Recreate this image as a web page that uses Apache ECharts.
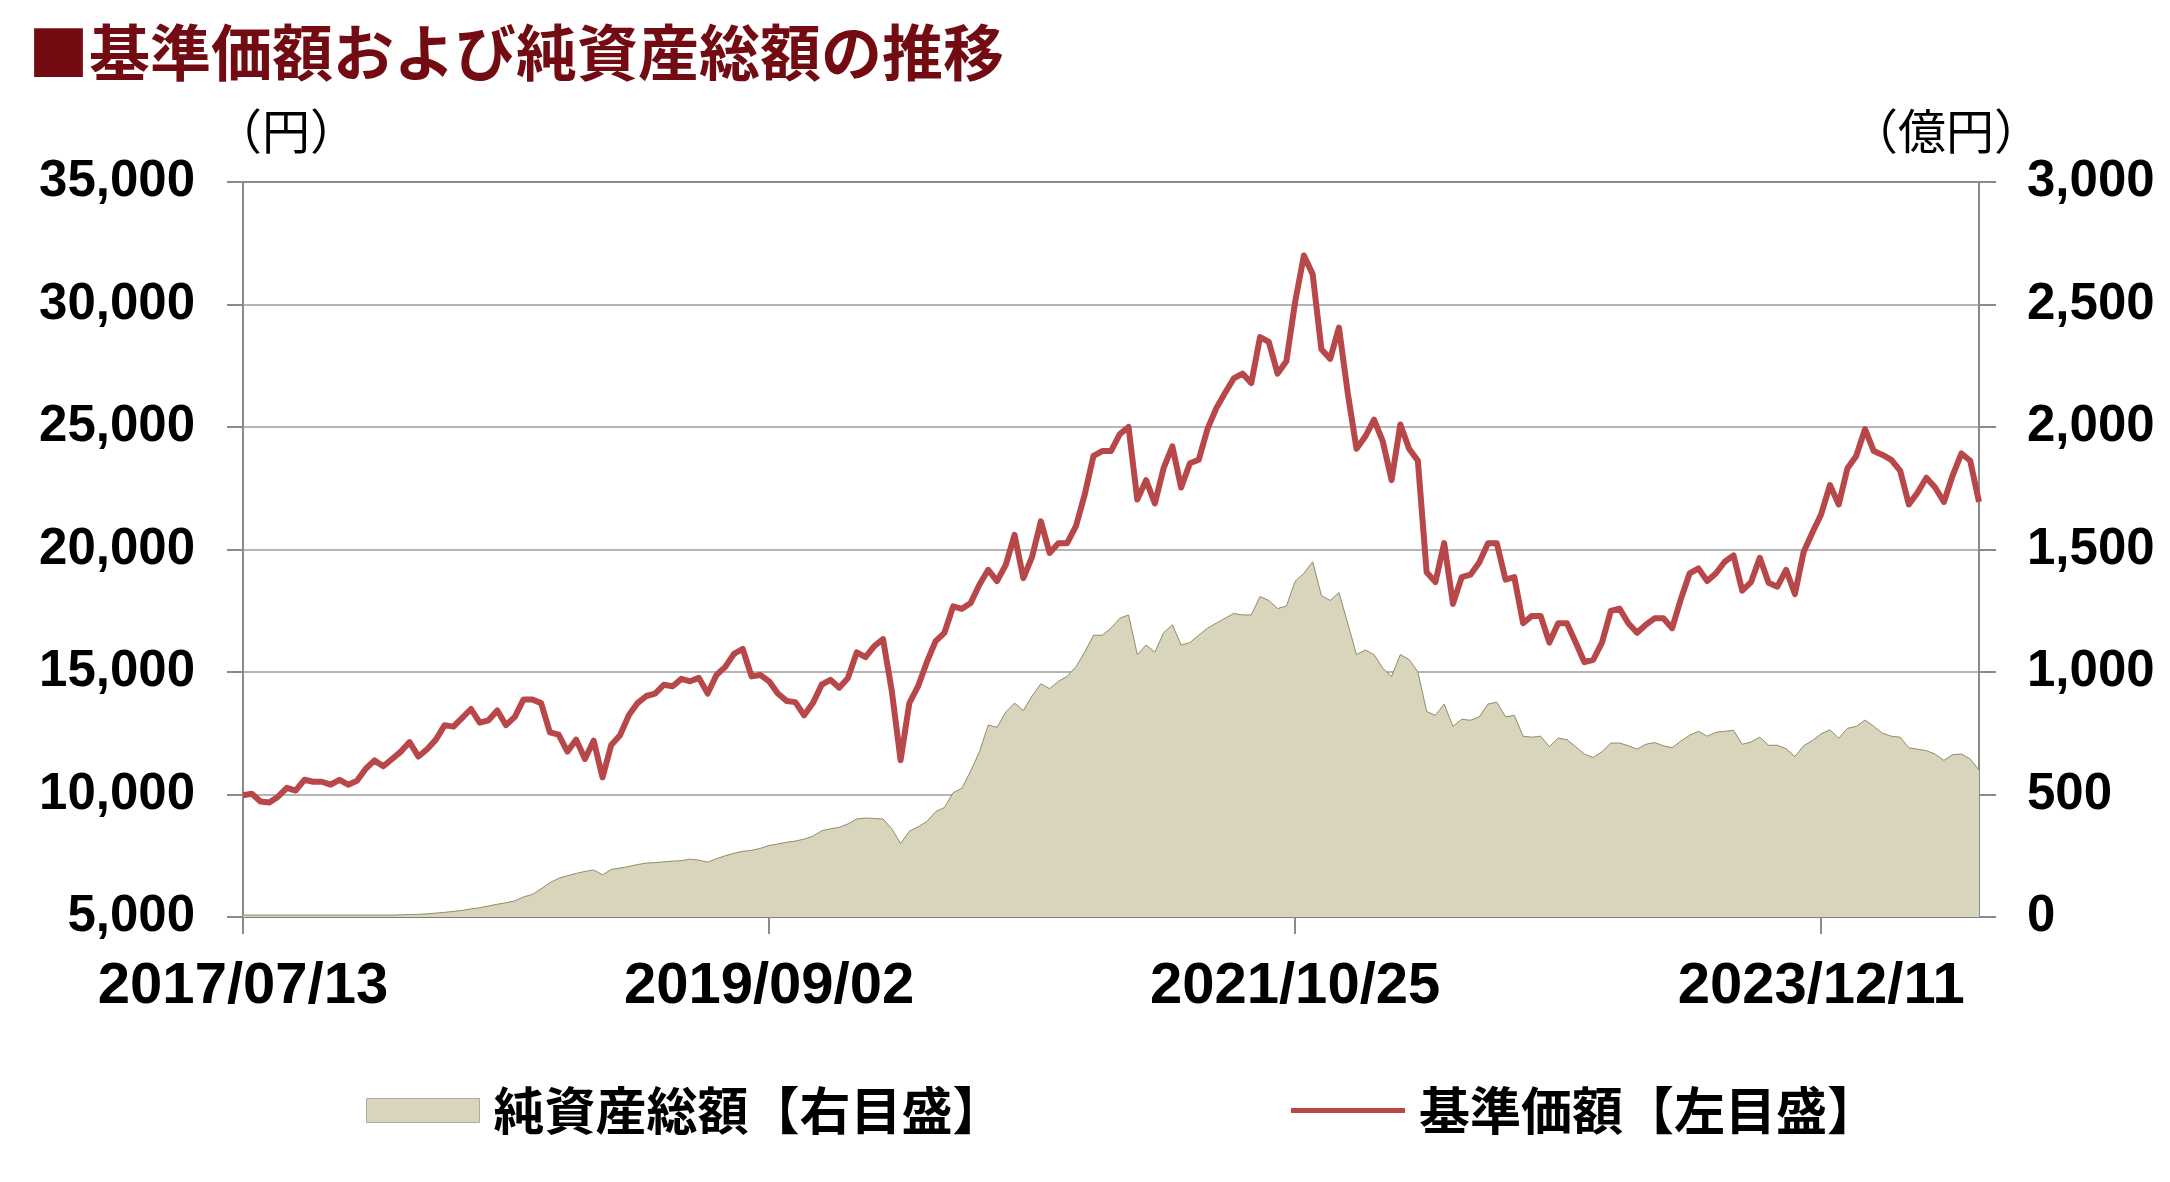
<!DOCTYPE html>
<html>
<head>
<meta charset="utf-8">
<script src="https://cdn.jsdelivr.net/npm/echarts@6/dist/echarts.min.js"></script>
<style>
html,body{margin:0;padding:0;background:#fff;}
#chart{width:2170px;height:1182px;}
</style>
</head>
<body>
<div id="chart"></div>
<script>
// ---- data ----
const tickDates = ['2017/07/13', '2019/09/02', '2021/10/25', '2023/12/11'];
const STEP = 60; // points between labelled dates

// 基準価額 (円), left axis
const price = [
  9970,10030,9710,9670,9910,10270,10160,10600,10520,10520,
  10400,10600,10400,10560,11050,11390,11150,11450,11750,12140,
  11550,11850,12240,12830,12770,13130,13490,12930,13030,13430,
  12830,13170,13880,13880,13730,12540,12440,11750,12240,11450,
  12200,10700,12020,12420,13230,13730,14020,14120,14480,14420,
  14720,14620,14760,14120,14880,15210,15740,15940,14820,14880,
  14620,14120,13820,13770,13230,13730,14480,14680,14360,14760,
  15800,15610,16060,16340,14220,11400,13730,14420,15410,16260,
  16600,17680,17580,17820,18570,19170,18710,19370,20600,18830,
  19700,21150,19860,20260,20260,20950,22240,23820,24020,24020,
  24710,25000,22040,22830,21880,23320,24210,22530,23520,23660,
  24910,25760,26390,26980,27180,26790,28670,28470,27180,27680,
  30100,32000,31240,28170,27780,29060,26390,24110,24610,25300,
  24410,22830,25100,24110,23620,19070,18670,20260,17780,18870,
  18970,19470,20260,20260,18770,18870,16990,17290,17290,16200,
  16990,16990,16200,15400,15500,16200,17490,17590,16990,16600,
  16930,17190,17190,16790,17980,19030,19230,18710,19030,19500,
  19760,18320,18670,19660,18640,18480,19170,18180,19900,20690,
  21440,22630,21840,23320,23820,24910,24020,23860,23660,23220,
  21840,22330,22930,22530,21940,23030,23920,23620,21940
];

// 純資産総額 (億円), right axis
const netAssets = [
  8,8,8,8,8,8,8,8,8,8,
  8,8,8,8,8,8,8,8,9,10,
  11,13,16,19,23,27,33,38,45,52,
  58,66,82,92,115,140,158,168,178,186,
  192,172,194,200,206,214,220,222,225,228,
  230,236,232,224,238,250,260,268,272,280,
  292,298,305,310,318,330,352,360,366,380,
  400,404,402,400,360,300,350,368,390,430,
  447,507,526,596,675,784,774,837,873,843,
  902,952,932,962,982,1021,1081,1150,1150,1179,
  1219,1233,1071,1110,1081,1160,1193,1110,1120,1150,
  1179,1199,1219,1239,1233,1233,1308,1292,1259,1269,
  1370,1403,1450,1312,1292,1324,1199,1071,1090,1071,
  1015,982,1071,1051,1001,839,823,869,778,807,
  803,817,869,877,817,823,738,734,738,695,
  730,724,695,665,651,675,710,710,699,685,
  705,712,699,691,718,742,758,738,754,758,
  762,705,714,734,701,701,687,655,699,720,
  748,764,730,770,778,804,778,750,738,734,
  691,685,679,665,639,663,665,645,600
];

const leftAxisRange = { min: 5000, max: 35000, interval: 5000 };
const rightAxisRange = { min: 0, max: 3000, interval: 500 };

const titleText = '■基準価額および純資産総額の推移';
const leftUnit = '（円）';
const rightUnit = '（億円）';
const nameNA = '純資産総額【右目盛】';
const namePrice = '基準価額【左目盛】';

// ---- category dates (labelled dates sit every STEP points) ----
function parseD(s){const p=s.split('/').map(Number);return Date.UTC(p[0],p[1]-1,p[2]);}
function fmtD(t){const d=new Date(t);return d.getUTCFullYear()+'/'+String(d.getUTCMonth()+1).padStart(2,'0')+'/'+String(d.getUTCDate()).padStart(2,'0');}
const categories = price.map((_, i) => {
  const k = Math.min(Math.floor(i / STEP), tickDates.length - 2);
  const t0 = parseD(tickDates[k]), t1 = parseD(tickDates[k + 1]);
  const t = t0 + (t1 - t0) * (i - k * STEP) / STEP;
  return fmtD(Math.round(t / 86400000) * 86400000);
});

const NUM_FONT = '"Liberation Sans", Arial, sans-serif';
const JP_FONT = '"Noto Sans CJK JP", sans-serif';
const AXIS_GRAY = '#8a8a8a';

const chart = echarts.init(document.getElementById('chart'), null, { renderer: 'canvas' });
chart.setOption({
  animation: false,
  backgroundColor: '#ffffff',
  title: {
    text: titleText,
    left: 28, top: 22, padding: 0,
    textStyle: { fontFamily: JP_FONT, fontSize: 61, fontWeight: 'bold', color: '#720c12', lineHeight: 61 }
  },
  graphic: [
    { type: 'text', x: 286, y: 131,
      style: { text: leftUnit, x: 0, y: 0, align: 'center', verticalAlign: 'middle',
        font: 'normal 48px "Noto Sans CJK JP", sans-serif', fill: '#000' } },
    { type: 'text', x: 1946, y: 131,
      style: { text: rightUnit, x: 0, y: 0, align: 'center', verticalAlign: 'middle',
        font: 'normal 48px "Noto Sans CJK JP", sans-serif', fill: '#000' } }
  ],
  legend: [
    { left: 366, top: 1085, padding: 0, itemWidth: 113, itemHeight: 24,
      textStyle: { fontFamily: JP_FONT, fontSize: 51, fontWeight: 'bold', color: '#000', padding: [0,0,0,9] },
      data: [{ name: nameNA, icon: 'rect', itemStyle: { color: '#d9d5bd', borderColor: '#b3af94', borderWidth: 1 } }] },
    { left: 1291, top: 1085, padding: 0, itemWidth: 114, itemHeight: 5,
      textStyle: { fontFamily: JP_FONT, fontSize: 51, fontWeight: 'bold', color: '#000', padding: [0,0,0,9] },
      data: [{ name: namePrice, icon: 'rect', itemStyle: { color: '#b8474a' } }] }
  ],
  grid: { left: 243, right: 191, top: 182, bottom: 265, containLabel: false },
  xAxis: [
    { type: 'category', position: 'bottom', data: categories, boundaryGap: false,
      axisLine: { show: true, lineStyle: { color: '#7f7f7f', width: 2 } },
      axisTick: { show: true, interval: STEP - 1, length: 17, lineStyle: { color: AXIS_GRAY, width: 2 } },
      axisLabel: { interval: STEP - 1, margin: 41, fontFamily: NUM_FONT, fontSize: 58, fontWeight: 'bold', color: '#000' },
      splitLine: { show: false } },
    { type: 'category', position: 'top', data: categories, boundaryGap: false,
      axisLine: { show: true, lineStyle: { color: AXIS_GRAY, width: 2 } },
      axisTick: { show: false }, axisLabel: { show: false }, splitLine: { show: false } }
  ],
  yAxis: [
    { type: 'value', position: 'left', min: leftAxisRange.min, max: leftAxisRange.max, interval: leftAxisRange.interval,
      axisLine: { show: true, lineStyle: { color: AXIS_GRAY, width: 2 } },
      axisTick: { show: true, inside: false, length: 16, lineStyle: { color: AXIS_GRAY, width: 2 } },
      axisLabel: { margin: 48, fontFamily: NUM_FONT, fontSize: 51, fontWeight: 'bold', color: '#000',
        formatter: v => v.toLocaleString('en-US') },
      splitLine: { show: true, lineStyle: { color: '#b5b5b5', width: 2 } } },
    { type: 'value', position: 'right', min: rightAxisRange.min, max: rightAxisRange.max, interval: rightAxisRange.interval,
      axisLine: { show: true, lineStyle: { color: AXIS_GRAY, width: 2 } },
      axisTick: { show: true, inside: false, length: 17, lineStyle: { color: AXIS_GRAY, width: 2 } },
      axisLabel: { margin: 48, fontFamily: NUM_FONT, fontSize: 51, fontWeight: 'bold', color: '#000',
        formatter: v => v.toLocaleString('en-US') },
      splitLine: { show: false } }
  ],
  series: [
    { name: nameNA, type: 'line', xAxisIndex: 0, yAxisIndex: 1, data: netAssets,
      symbol: 'none', smooth: false,
      lineStyle: { color: '#8f8c66', width: 1 },
      itemStyle: { color: '#d9d5bd' },
      areaStyle: { color: '#d9d5bd', opacity: 1 } },
    { name: namePrice, type: 'line', xAxisIndex: 0, yAxisIndex: 0, data: price,
      symbol: 'none', smooth: false,
      lineStyle: { color: '#b8474a', width: 6, join: 'round' },
      itemStyle: { color: '#b8474a' } }
  ]
});
</script>
</body>
</html>
